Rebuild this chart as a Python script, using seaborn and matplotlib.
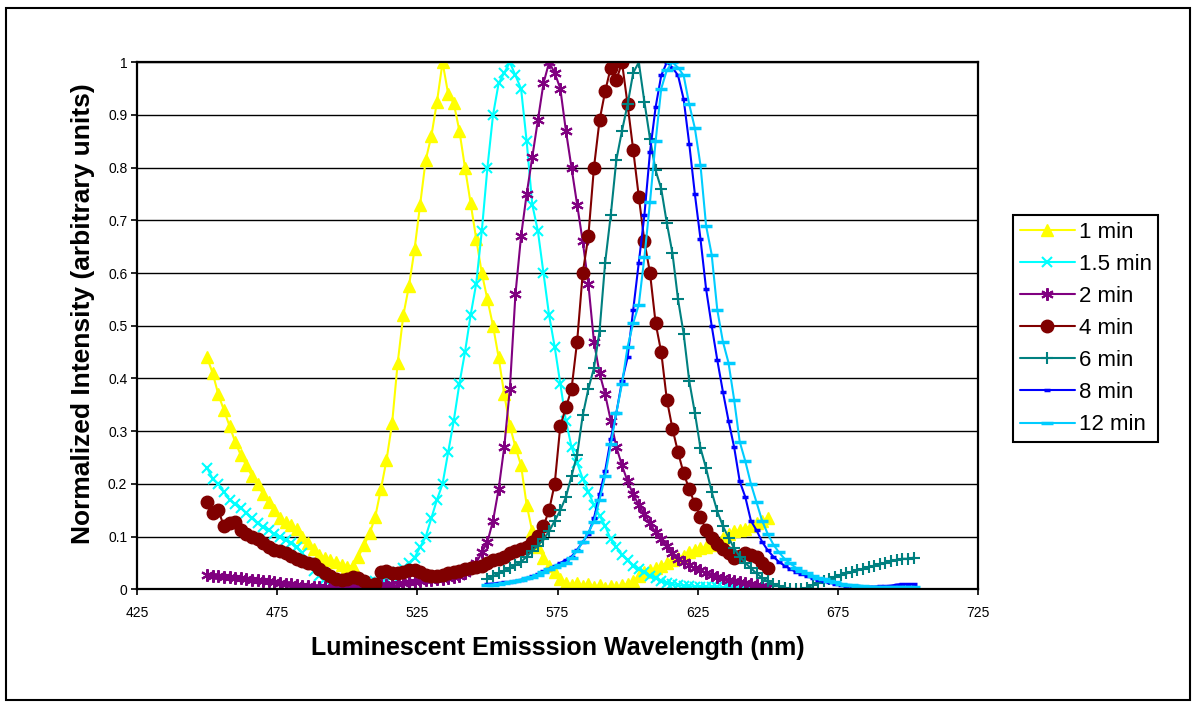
import numpy as np
import matplotlib
matplotlib.use("Agg")
import matplotlib.pyplot as plt
from matplotlib.patches import Rectangle
import seaborn as sns

# wavelength grids (nm)
wavelength_a = np.arange(450, 652, 2)   # 1, 1.5, 2, 4 min spectra
wavelength_b = np.arange(550, 704, 2)   # 6, 8, 12 min spectra

int_1min = [
    0.44, 0.41, 0.37, 0.34, 0.31, 0.28, 0.255, 0.235, 0.215, 0.20,
    0.18, 0.165, 0.15, 0.135, 0.128, 0.122, 0.115, 0.10, 0.088, 0.076,
    0.066, 0.060, 0.056, 0.052, 0.047, 0.043, 0.045, 0.062, 0.084, 0.106,
    0.138, 0.19, 0.245, 0.315, 0.43, 0.52, 0.575, 0.645, 0.73, 0.815,
    0.86, 0.925, 1.0, 0.94, 0.922, 0.87, 0.80, 0.733, 0.665, 0.60,
    0.55, 0.50, 0.44, 0.37, 0.31, 0.27, 0.235, 0.16, 0.11, 0.08,
    0.06, 0.045, 0.032, 0.02, 0.012, 0.008, 0.012, 0.006, 0.01, 0.004,
    0.008, 0.003, 0.006, 0.004, 0.008, 0.01, 0.015, 0.025, 0.032, 0.036,
    0.04, 0.045, 0.05, 0.055, 0.06, 0.063, 0.07, 0.075, 0.078, 0.08,
    0.085, 0.09, 0.098, 0.105, 0.11, 0.112, 0.115, 0.12, 0.125, 0.13,
    0.135,
]
int_1_5min = [
    0.23, 0.21, 0.20, 0.185, 0.17, 0.162, 0.155, 0.145, 0.135, 0.125,
    0.118, 0.112, 0.105, 0.10, 0.094, 0.087, 0.08, 0.068, 0.05, 0.035,
    0.025, 0.02, 0.017, 0.015, 0.013, 0.012, 0.012, 0.012, 0.013, 0.014,
    0.016, 0.018, 0.02, 0.025, 0.032, 0.04, 0.05, 0.06, 0.08, 0.10,
    0.135, 0.17, 0.2, 0.26, 0.32, 0.39, 0.45, 0.52, 0.58, 0.68,
    0.80, 0.90, 0.96, 0.98, 1.0, 0.975, 0.95, 0.85, 0.73, 0.68,
    0.60, 0.52, 0.46, 0.39, 0.32, 0.27, 0.24, 0.21, 0.185, 0.16,
    0.14, 0.12, 0.095, 0.08, 0.066, 0.055, 0.045, 0.038, 0.032, 0.026,
    0.021, 0.016, 0.012, 0.01, 0.008, 0.007, 0.006, 0.005, 0.005, 0.004,
    0.004, 0.004, 0.003, 0.003, 0.003, 0.003, 0.003, 0.003, 0.003, 0.003,
    0.003,
]
int_2min = [
    0.027, 0.026, 0.025, 0.024, 0.023, 0.022, 0.021, 0.019, 0.018, 0.017,
    0.016, 0.015, 0.013, 0.012, 0.011, 0.01, 0.008, 0.007, 0.006, 0.005,
    0.005, 0.004, 0.003, 0.003, 0.002, 0.002, 0.003, 0.004, 0.005, 0.006,
    0.007, 0.008, 0.009, 0.01, 0.011, 0.012, 0.013, 0.014, 0.015, 0.017,
    0.018, 0.019, 0.02, 0.021, 0.023, 0.025, 0.03, 0.04, 0.05, 0.07,
    0.09, 0.13, 0.19, 0.27, 0.38, 0.56, 0.67, 0.75, 0.82, 0.89,
    0.96, 1.0, 0.98, 0.95, 0.87, 0.80, 0.73, 0.66, 0.58, 0.47,
    0.41, 0.37, 0.32, 0.27, 0.235, 0.205, 0.18, 0.16, 0.143, 0.125,
    0.108, 0.095, 0.082, 0.068, 0.058, 0.052, 0.046, 0.04, 0.036, 0.031,
    0.027, 0.024, 0.021, 0.018, 0.016, 0.014, 0.012, 0.01, 0.008, 0.006,
    0.005,
]
int_4min = [
    0.165, 0.145, 0.15, 0.12, 0.125, 0.128, 0.112, 0.105, 0.10, 0.095,
    0.088, 0.08, 0.075, 0.072, 0.068, 0.063, 0.058, 0.054, 0.05, 0.048,
    0.038, 0.03, 0.025, 0.02, 0.018, 0.02, 0.024, 0.022, 0.015, 0.006,
    0.01, 0.033, 0.035, 0.03, 0.03, 0.033, 0.036, 0.037, 0.032, 0.028,
    0.025, 0.025, 0.027, 0.03, 0.032, 0.035, 0.038, 0.04, 0.042, 0.045,
    0.05, 0.055, 0.058, 0.062, 0.068, 0.072, 0.076, 0.081, 0.09, 0.102,
    0.12, 0.15, 0.2, 0.31, 0.345, 0.38, 0.47, 0.6, 0.67, 0.8,
    0.89, 0.945, 0.99, 0.966, 1.0, 0.92, 0.834, 0.745, 0.66, 0.6,
    0.505, 0.45, 0.36, 0.305, 0.26, 0.22, 0.19, 0.162, 0.137, 0.113,
    0.098, 0.086, 0.076, 0.068, 0.06, 0.063, 0.068, 0.066, 0.062, 0.05,
    0.04,
]
int_6min = [
    0.02, 0.025, 0.03, 0.035, 0.04, 0.046, 0.052, 0.062, 0.073, 0.083,
    0.095, 0.11, 0.13, 0.15, 0.175, 0.215, 0.255, 0.33, 0.38, 0.42,
    0.49, 0.62, 0.71, 0.815, 0.87, 0.92, 0.98, 1.0, 0.925, 0.855,
    0.795, 0.76, 0.695, 0.638, 0.55, 0.485, 0.395, 0.335, 0.268, 0.23,
    0.185, 0.148, 0.12, 0.098, 0.078, 0.062, 0.05, 0.04, 0.03, 0.022,
    0.015, 0.01, 0.006, 0.003, 0.001, 0.0, 0.0, 0.003, 0.008, 0.012,
    0.016, 0.02, 0.024, 0.027, 0.03, 0.033, 0.036, 0.039, 0.042, 0.045,
    0.048, 0.05, 0.054, 0.056, 0.058, 0.058, 0.06,
]
int_8min = [
    0.01, 0.011, 0.012, 0.013, 0.014, 0.016, 0.018, 0.021, 0.025, 0.029,
    0.034, 0.039, 0.044, 0.05, 0.056, 0.062, 0.075, 0.09, 0.105, 0.135,
    0.18, 0.225, 0.285, 0.335, 0.395, 0.44, 0.53, 0.62, 0.71, 0.83,
    0.915, 0.975, 1.0, 0.99, 0.975, 0.93, 0.845, 0.75, 0.665, 0.57,
    0.50, 0.435, 0.375, 0.32, 0.27, 0.205, 0.175, 0.13, 0.112, 0.09,
    0.074, 0.062, 0.052, 0.045, 0.039, 0.033, 0.029, 0.025, 0.021, 0.018,
    0.015, 0.013, 0.01, 0.008, 0.007, 0.006, 0.006, 0.005, 0.005, 0.005,
    0.006, 0.006, 0.007, 0.009, 0.01, 0.01, 0.01,
]
int_12min = [
    0.008, 0.009, 0.01, 0.012, 0.014, 0.016, 0.018, 0.021, 0.024, 0.028,
    0.033, 0.038, 0.043, 0.046, 0.05, 0.06, 0.073, 0.09, 0.108, 0.128,
    0.17, 0.215, 0.275, 0.335, 0.39, 0.46, 0.505, 0.54, 0.63, 0.735,
    0.85, 0.95, 0.985, 1.0, 0.99, 0.975, 0.92, 0.875, 0.805, 0.69,
    0.635, 0.53, 0.47, 0.43, 0.36, 0.28, 0.243, 0.2, 0.165, 0.13,
    0.105, 0.085, 0.07, 0.058, 0.049, 0.041, 0.035, 0.03, 0.026, 0.022,
    0.019, 0.016, 0.013, 0.011, 0.009, 0.008, 0.007, 0.006, 0.005, 0.005,
    0.004, 0.004, 0.004, 0.004, 0.004, 0.004, 0.004,
]

labels = ["1 min", "1.5 min", "2 min", "4 min", "6 min", "8 min", "12 min"]
wavelengths = [wavelength_a] * 4 + [wavelength_b] * 3
intensities = [int_1min, int_1_5min, int_2min, int_4min, int_6min, int_8min, int_12min]

# Excel-like styling per series: colour, marker, marker size, marker edge width
styles = [
    ("#FFFF00", "^", 8, 1.0),
    ("#00FFFF", "x", 7, 1.5),
    ("#800080", (6, 2, 0), 9, 1.5),
    ("#800000", "o", 9, 1.0),
    ("#008080", "+", 9, 1.5),
    ("#0000FF", "_", 4, 2.5),
    ("#00CCFF", "_", 9, 2.5),
]

sns.set_theme(style="white")
plt.rcParams["font.family"] = ["Liberation Sans", "DejaVu Sans"]
plt.rcParams["text.color"] = "black"
plt.rcParams["axes.labelcolor"] = "black"

W, H = 1196, 708
fig = plt.figure(figsize=(W / 100, H / 100), dpi=100)
ax = fig.add_axes([137 / W, (H - 589.3) / H, (978 - 137) / W, (589.3 - 62.3) / H])

handles = []
for name, wl, vals, (col, mk, ms, mew) in zip(labels, wavelengths, intensities, styles):
    sns.lineplot(x=wl, y=vals, ax=ax, color=col, linewidth=1.5,
                 marker=mk, markersize=ms, markeredgecolor=col,
                 markerfacecolor=col, markeredgewidth=mew,
                 errorbar=None, label=name, legend=False)
    handles.append(ax.lines[-1])

ax.set_xlim(425, 725)
ax.set_ylim(0, 1)
ax.set_xticks(np.arange(425, 726, 50))
ax.set_yticks(np.round(np.arange(0, 1.01, 0.1), 1))
ax.set_yticklabels(["0", "0.1", "0.2", "0.3", "0.4", "0.5", "0.6", "0.7", "0.8", "0.9", "1"])
ax.tick_params(axis="both", labelsize=10, colors="black", direction="out",
               length=4, width=1.2, left=True, bottom=True)
ax.tick_params(axis="x", pad=8)
ax.tick_params(axis="y", pad=3)
ax.yaxis.grid(True, color="black", linewidth=1.0)
ax.xaxis.grid(False)
ax.set_axisbelow(True)
for sp in ax.spines.values():
    sp.set_color("black")
    sp.set_linewidth(1.6)
ax.set_xlabel("")
ax.set_ylabel("")

fig.text(557.5 / W, 1 - 648 / H, "Luminescent Emisssion Wavelength (nm)",
         ha="center", va="center", fontsize=18, fontweight="bold", color="black")
fig.text(83 / W, 1 - 314 / H, "Normalized Intensity (arbitrary units)",
         ha="center", va="center", rotation=90, fontsize=19, fontweight="bold",
         color="black")

leg = ax.legend(handles=handles, labels=labels, loc="upper left",
                bbox_to_anchor=(1013 / W, 1 - 215 / H), bbox_transform=fig.transFigure,
                fontsize=16, frameon=True, fancybox=False, framealpha=1,
                edgecolor="black", borderpad=0.3, labelspacing=0.5,
                handlelength=2.5, handletextpad=0.15, borderaxespad=0, numpoints=1)
leg.get_frame().set_linewidth(1.5)
for t in leg.get_texts():
    t.set_color("black")

fig.patches.append(Rectangle((6 / W, 1 - 700 / H), (1190 - 6) / W, (700 - 8) / H,
                             transform=fig.transFigure, fill=False,
                             edgecolor="black", linewidth=1.5))

fig.savefig("out.png", dpi=100, facecolor="white")
